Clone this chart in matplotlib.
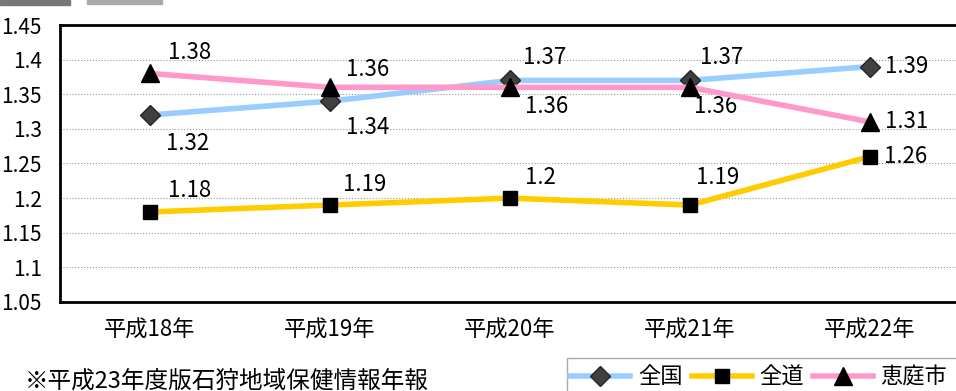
import matplotlib.pyplot as plt
from matplotlib.patches import Rectangle
import numpy as np

plt.rcParams['font.family'] = ['Noto Sans CJK JP', 'DejaVu Sans']

YEARS = ['平成18年', '平成19年', '平成20年', '平成21年', '平成22年']
ZENKOKU = [1.32, 1.34, 1.37, 1.37, 1.39]
ZENDO = [1.18, 1.19, 1.20, 1.19, 1.26]
ENIWA = [1.38, 1.36, 1.36, 1.36, 1.31]
LABELS_ZENKOKU = ['1.32', '1.34', '1.37', '1.37', '1.39']
LABELS_ZENDO = ['1.18', '1.19', '1.2', '1.19', '1.26']
LABELS_ENIWA = ['1.38', '1.36', '1.36', '1.36', '1.31']
YTICKS = [1.05, 1.1, 1.15, 1.2, 1.25, 1.3, 1.35, 1.4, 1.45]
YTICK_LABELS = ['1.05', '1.1', '1.15', '1.2', '1.25', '1.3', '1.35', '1.4', '1.45']

W, H = 956, 391
fig = plt.figure(figsize=(W / 100, H / 100), dpi=100)
ax = fig.add_axes([60 / W, 1 - 302 / H, 900 / W, 277 / H])
x = np.arange(len(YEARS))

ax.plot(x, ZENKOKU, color='#99CCFF', lw=4, marker='D', ms=10,
        mfc='#404040', mec='#262626', mew=1, label='全国', zorder=3)
ax.plot(x, ZENDO, color='#FFCC00', lw=4, marker='s', ms=10,
        mfc='black', mec='black', label='全道', zorder=3)
ax.plot(x, ENIWA, color='#FF99CC', lw=4, marker='^', ms=13,
        mfc='black', mec='black', label='恵庭市', zorder=4)

# label offsets in pixels (dx, dy)
off_zenkoku = [(38, -28), (38, -26), (35, 23), (32, 23), (37, 0)]
off_zendo = [(40, 21), (35, 21), (30, 21), (28, 28), (36, 0)]
off_eniwa = [(40, 21), (38, 18), (37, -19), (26, -19), (37, 0)]
for vals, labs, offs in [(ZENKOKU, LABELS_ZENKOKU, off_zenkoku),
                         (ZENDO, LABELS_ZENDO, off_zendo),
                         (ENIWA, LABELS_ENIWA, off_eniwa)]:
    for i, (v, t, o) in enumerate(zip(vals, labs, offs)):
        ax.annotate(t, (x[i], v), xytext=o, textcoords='offset pixels',
                    ha='center', va='center', fontsize=16, color='black')

ax.set_xlim(-0.5, 4.5)
ax.set_ylim(1.05, 1.45)
ax.set_yticks(YTICKS)
ax.set_yticklabels(YTICK_LABELS, fontsize=15)
ax.set_xticks(x)
ax.set_xticklabels(YEARS, fontsize=16)
ax.tick_params(length=0, pad=13)
ax.tick_params(axis='x', pad=12)
ax.grid(axis='y', color='#999999', ls=':', lw=0.8)
ax.set_axisbelow(True)
for s in ['left', 'top', 'bottom']:
    ax.spines[s].set_linewidth(2)
ax.spines['right'].set_visible(False)

# legend box runs off the right and bottom edges in the original
fig.patches.append(Rectangle((567 / W, -0.05), 0.5, 0.05 + 1 - 358 / H,
                             transform=fig.transFigure, fill=False,
                             edgecolor='#aaaaaa', lw=1))
leg = fig.legend(loc='upper left', bbox_to_anchor=(567 / W, 1 - 362 / H),
                 ncol=3, fontsize=16, frameon=False,
                 handlelength=2.7, handletextpad=0.35, columnspacing=0.4,
                 borderpad=0.15, borderaxespad=0)

fig.text(25 / W, 1 - 381 / H, '※平成23年度版石狩地域保健情報年報',
         fontsize=17, va='center', ha='left')

# clipped header shapes at the top edge
fig.patches.append(Rectangle((0, 1 - 5 / H), 70 / W, 5 / H,
                             transform=fig.transFigure, color='#777777'))
fig.patches.append(Rectangle((87 / W, 1 - 4 / H), 75 / W, 4 / H,
                             transform=fig.transFigure, color='#aaaaaa'))

fig.savefig('out.png', dpi=100)
